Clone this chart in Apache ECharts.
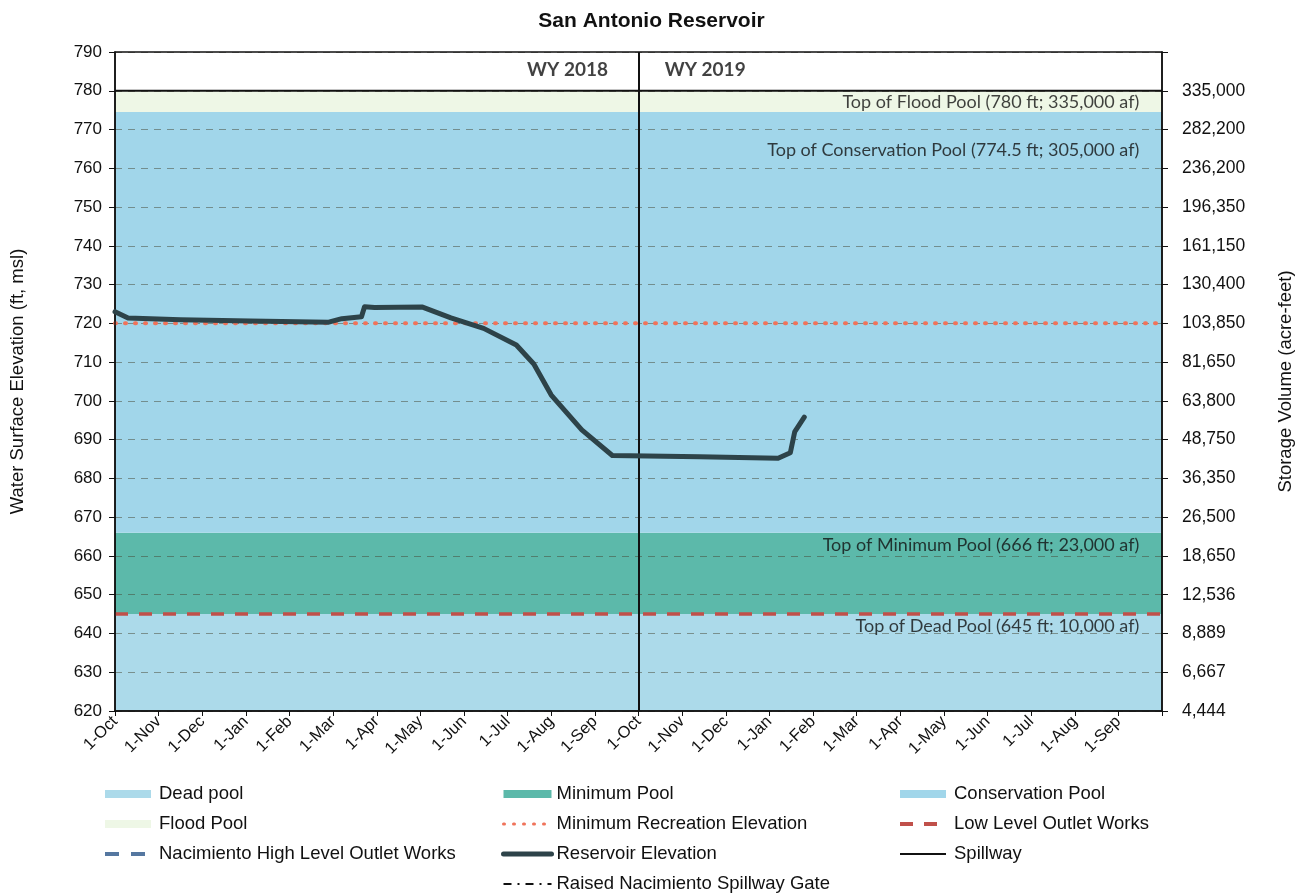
<!DOCTYPE html>
<html><head><meta charset="utf-8">
<script src="https://cdn.jsdelivr.net/npm/echarts@6/dist/echarts.min.js"></script>
<style>html,body{margin:0;padding:0;background:#fff;overflow:hidden}#c{width:1303px;height:893px}</style>
</head><body><div id="c"></div>
<script>
// ---- data ----
const monthLabels = ['1-Oct','1-Nov','1-Dec','1-Jan','1-Feb','1-Mar','1-Apr','1-May','1-Jun','1-Jul','1-Aug','1-Sep',
                     '1-Oct','1-Nov','1-Dec','1-Jan','1-Feb','1-Mar','1-Apr','1-May','1-Jun','1-Jul','1-Aug','1-Sep'];
const storageLabels = ['4,444','6,667','8,889','12,536','18,650','26,500','36,350','48,750','63,800','81,650',
                       '103,850','130,400','161,150','196,350','236,200','282,200','335,000',''];
// pool boundaries (ft): dead 620-645, minimum 645-666, conservation 666-774.5, flood 774.5-780
const poolBottom = [620, 645, 666, 774.5];
const poolTop    = [645, 666, 774.5, 780];
const poolNames  = ['Dead pool', 'Minimum Pool', 'Conservation Pool', 'Flood Pool'];
const minRecreationElev = 720;
const lowLevelOutletElev = 645;
const spillwayElev = 780;
// reservoir elevation: x in months since 1-Oct-2017, y in ft
const elevMonths = [0, 0.3, 1.5, 3.1, 4.9, 5.2, 5.65, 5.72, 5.95, 7.05, 7.7, 8.45, 9.2, 9.6, 10.0, 10.7, 11.4, 13.4, 15.2, 15.48, 15.58, 15.8];
const elevValues = [723, 721.4, 720.9, 720.6, 720.3, 721.2, 721.7, 724.3, 724.1, 724.2, 721.4, 718.7, 714.4, 709.5, 701.5, 692.5, 685.9, 685.6, 685.2, 686.6, 692.0, 695.8];
const poolNotes = ['Top of Flood Pool (780 ft; 335,000 af)', 'Top of Conservation Pool (774.5 ft; 305,000 af)',
                   'Top of Minimum Pool (666 ft; 23,000 af)', 'Top of Dead Pool (645 ft; 10,000 af)'];
const poolNoteElev = [777, 764.7, 662.8, 641.9];
const wyLabels = ['WY 2018', 'WY 2019'];

const poolColors = ['#acdaea', '#5cb9aa', '#a1d6ea', '#eef7e6'];
const elevData = elevMonths.map((m, i) => [m, elevValues[i]]);

const poolSeries = poolNames.map((n, i) => ({
  name: n, type: 'line', data: [], color: poolColors[i], silent: true, z: 1,
  markArea: { silent: true, z: 1, itemStyle: { color: poolColors[i], opacity: 1 },
    data: [[{ yAxis: poolBottom[i] }, { yAxis: poolTop[i] }]] }
}));

const flat = (v) => [[0, v], [24, v]];
const lineItem = (n, w) => ({ name: n, itemStyle: { opacity: 0 }, lineStyle: { width: w } });
const legendText = (pad) => ({ fontFamily: 'Liberation Sans', fontSize: 18.5, color: '#111', lineHeight: 20, padding: [0, 0, 0, pad] });

const option = {
  animation: false,
  backgroundColor: '#fff',
  title: { text: 'San Antonio Reservoir', left: 'center', top: 6,
    textStyle: { fontFamily: 'Liberation Sans', fontSize: 21, fontWeight: 'bold', color: '#111' } },
  grid: { left: 112, right: 135, top: 52, bottom: 182, show: true, borderColor: '#111', borderWidth: 1.5, backgroundColor: 'transparent', z: 5 },
  xAxis: { type: 'value', min: 0, max: 24, interval: 1, z: 4,
    axisLine: { lineStyle: { color: '#111', width: 1.5 } },
    axisTick: { show: true, length: 5, lineStyle: { color: '#111' } },
    splitLine: { show: false },
    axisLabel: { rotate: 45, fontFamily: 'Liberation Sans', fontSize: 16.5, color: '#111', margin: 8,
      formatter: v => (v < 24 ? monthLabels[v] : '') } },
  yAxis: [
    { type: 'value', min: 620, max: 790, interval: 10, position: 'left', z: 3,
      name: 'Water Surface Elevation (ft, msl)', nameLocation: 'middle', nameGap: 88, nameRotate: 90,
      nameTextStyle: { fontFamily: 'Liberation Sans', fontSize: 18.5, color: '#111' },
      axisLine: { show: true, lineStyle: { color: '#111', width: 1.5 } },
      axisTick: { show: true, length: 6, lineStyle: { color: '#111' } },
      axisLabel: { fontFamily: 'Liberation Sans', fontSize: 17, color: '#111', margin: 13 },
      splitLine: { show: true, lineStyle: { color: 'rgba(70,70,50,0.5)', type: [7, 6], width: 1 } } },
    { type: 'value', min: 620, max: 790, interval: 10, position: 'right', z: 3,
      name: 'Storage Volume (acre-feet)', nameLocation: 'middle', nameGap: 114, nameRotate: 90,
      nameTextStyle: { fontFamily: 'Liberation Sans', fontSize: 18.5, color: '#111' },
      axisLine: { show: true, lineStyle: { color: '#111', width: 1.5 } },
      axisTick: { show: true, length: 6, lineStyle: { color: '#111' } },
      axisLabel: { fontFamily: 'Liberation Sans', fontSize: 17.5, color: '#111', margin: 20,
        formatter: v => storageLabels[Math.round((v - 620) / 10)] || '' },
      splitLine: { show: false } }
  ],
  legend: [
    { left: 103, top: 784, padding: 0, height: 120, orient: 'vertical', itemWidth: 46, itemHeight: 8, itemGap: 10,
      textStyle: legendText(3),
      data: [{ name: 'Dead pool', icon: 'rect' }, { name: 'Flood Pool', icon: 'rect' }, lineItem('Nacimiento High Level Outlet Works', 4)] },
    { left: 501, top: 784, padding: 0, height: 120, orient: 'vertical', itemWidth: 48, itemHeight: 8, itemGap: 10,
      textStyle: legendText(0),
      data: [{ name: 'Minimum Pool', icon: 'rect' }, lineItem('Minimum Recreation Elevation', 3), lineItem('Reservoir Elevation', 5), lineItem('Raised Nacimiento Spillway Gate', 2)] },
    { left: 898, top: 784, padding: 0, height: 120, orient: 'vertical', itemWidth: 46, itemHeight: 8, itemGap: 10,
      textStyle: legendText(3),
      data: [{ name: 'Conservation Pool', icon: 'rect' }, lineItem('Low Level Outlet Works', 4), lineItem('Spillway', 2)] }
  ],
  series: [
    ...poolSeries,
    { name: 'Minimum Recreation Elevation', type: 'line', data: flat(minRecreationElev), symbol: 'none', z: 3,
      color: '#f0735a', lineStyle: { color: '#f0735a', width: 4, type: [1, 9], cap: 'round' } },
    { name: 'Low Level Outlet Works', type: 'line', data: flat(lowLevelOutletElev), symbol: 'none', z: 3,
      color: '#c0504a', lineStyle: { color: '#c0504a', width: 3.5, type: [13, 11] } },
    { name: 'Nacimiento High Level Outlet Works', type: 'line', data: [], symbol: 'none',
      color: '#5577a0', lineStyle: { color: '#5577a0', width: 4, type: [14, 12] } },
    { name: 'Spillway', type: 'line', data: flat(spillwayElev), symbol: 'none', z: 4,
      color: '#111', lineStyle: { color: '#111', width: 2 } },
    { name: 'Raised Nacimiento Spillway Gate', type: 'line', data: [], symbol: 'none',
      color: '#111', lineStyle: { color: '#111', width: 2, type: [8, 6, 2, 6] } },
    { name: 'Reservoir Elevation', type: 'line', data: elevData, symbol: 'none', z: 6,
      color: '#2d4349', lineStyle: { color: '#2d4349', width: 5, cap: 'round', join: 'round' },
      markLine: { silent: true, symbol: 'none', label: { show: false },
        lineStyle: { color: '#111', width: 2, type: 'solid' }, data: [{ xAxis: 12 }] } },
    { name: 'notes', type: 'scatter', symbolSize: 0, z: 7, silent: true,
      data: poolNotes.map((t, i) => ({ value: [23.48, poolNoteElev[i]], note: t })),
      label: { show: true, position: 'left', distance: 0, formatter: p => p.data.note,
        fontFamily: 'Lato', fontSize: 18, color: '#111' } },
    { name: 'wy', type: 'scatter', symbolSize: 0, z: 7, silent: true,
      data: [{ value: [11.3, 785.4], t: wyLabels[0], label: { position: 'left' } },
             { value: [12.6, 785.4], t: wyLabels[1], label: { position: 'right' } }],
      label: { show: true, distance: 0, formatter: p => p.data.t,
        fontFamily: 'Lato', fontSize: 19, fontWeight: 'bold', color: '#111' } }
  ]
};

const chart = echarts.init(document.getElementById('c'), null, { renderer: 'canvas' });
chart.setOption(option);
</script>
</body></html>
